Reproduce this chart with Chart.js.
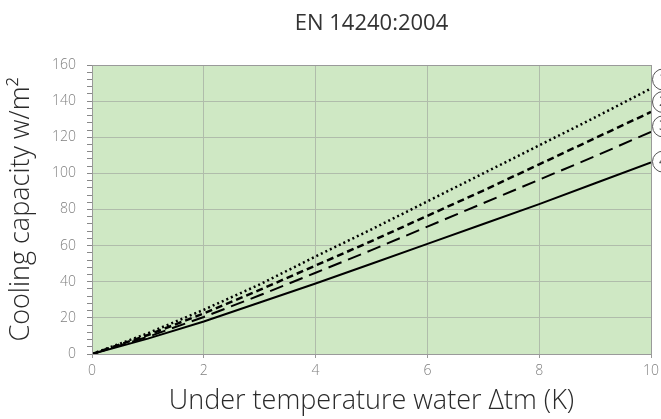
<!DOCTYPE html>
<html lang="en">
<head>
    <meta charset="UTF-8">
    <title>EN 14240:2004</title>
    <script src="https://cdn.jsdelivr.net/npm/chart.js@4.4.0/dist/chart.umd.min.js"></script>
    <style>
        html, body { margin: 0; padding: 0; background: #fff; }
        #wrap { width: 661px; height: 419px; }
    </style>
</head>
<body>
    <div id="wrap"><canvas id="graphCooling"></canvas></div>

    <script>
        // data
        const deltaT = [0, 1, 2, 3, 4, 5, 6, 7, 8, 9, 10];
        const curve1 = [0, 11.5, 24.5, 38.5, 54, 69, 84.5, 100, 115.5, 131, 147];   // dotted
        const curve2 = [0, 10.5, 22.5, 35.5, 49, 62.5, 76.5, 90.5, 105, 119.5, 134]; // short dash
        const curve3 = [0, 9.5, 20.5, 32.5, 45, 57.5, 70.5, 83.5, 96.5, 109.5, 123];  // long dash
        const curve4 = [0, 8.5, 18, 28.5, 39, 50, 61, 72, 83, 94.5, 106];            // solid
        const markerLabels = ['1', '2', '3', '4'];
        const markerValues = [152, 139.5, 126, 106.5];

        function pts(ys) {
            return deltaT.map((x, i) => ({ x: x, y: ys[i] }));
        }

        // green plot background + frame
        const plotBg = {
            id: 'plotBg',
            beforeDraw(chart) {
                const { ctx, chartArea: a } = chart;
                ctx.save();
                ctx.fillStyle = '#cfe8c4';
                ctx.fillRect(a.left, a.top, a.right - a.left, a.bottom - a.top);
                ctx.restore();
            },
            afterDatasetsDraw(chart) {
                const { ctx, chartArea: a } = chart;
                ctx.save();
                ctx.strokeStyle = '#9a9a9a';
                ctx.lineWidth = 1;
                ctx.strokeRect(a.left + 0.5, a.top + 0.5, a.right - a.left, a.bottom - a.top);
                ctx.restore();
            }
        };

        // numbered circles at right edge (cut off like the original)
        const markers = {
            id: 'markers',
            afterDraw(chart) {
                const { ctx, chartArea: a } = chart;
                const ys = chart.scales.y;
                ctx.save();
                markerValues.forEach((v, i) => {
                    const cy = ys.getPixelForValue(v);
                    const cx = a.right + 12;
                    ctx.beginPath();
                    ctx.arc(cx, cy, 10.5, 0, Math.PI * 2);
                    ctx.fillStyle = '#fff';
                    ctx.fill();
                    ctx.strokeStyle = '#555';
                    ctx.lineWidth = 1;
                    ctx.stroke();
                    ctx.fillStyle = '#555';
                    ctx.font = '14px "Open Sans"';
                    ctx.textAlign = 'center';
                    ctx.textBaseline = 'middle';
                    ctx.fillText(markerLabels[i], cx, cy);
                });
                ctx.restore();
            }
        };

        function line(data, dash, width) {
            return {
                data: pts(data),
                borderColor: '#000',
                borderWidth: width,
                borderDash: dash,
                pointRadius: 0,
                fill: false,
                tension: 0
            };
        }

        const font = '"Open Sans", "Noto Sans", sans-serif';

        new Chart(document.getElementById('graphCooling'), {
            type: 'line',
            data: {
                datasets: [
                    line(curve1, [2, 3], 2.5),
                    line(curve2, [7, 4], 2.5),
                    line(curve3, [14, 7], 2),
                    line(curve4, [], 2)
                ]
            },
            plugins: [plotBg, markers],
            options: {
                responsive: true,
                maintainAspectRatio: false,
                animation: false,
                layout: { padding: { left: 0, right: 10, top: 0, bottom: 1 } },
                plugins: {
                    legend: { display: false },
                    tooltip: { enabled: false },
                    title: {
                        display: true,
                        fullSize: false,
                        text: 'EN 14240:2004',
                        color: '#333',
                        font: { family: font, size: 22, weight: 'normal' },
                        padding: { top: 11, bottom: 27.6 }
                    }
                },
                scales: {
                    x: {
                        type: 'linear',
                        min: 0,
                        max: 10,
                        ticks: { stepSize: 2, color: '#808080', font: { family: font, size: 14, weight: 300 }, padding: 5 },
                        grid: { color: '#b0bcab', tickColor: '#999', tickLength: 4 },
                        border: { color: '#999' },
                        title: {
                            display: true,
                            text: 'Under temperature water Δtm (K)',
                            color: '#2a2a2a',
                            font: { family: font, size: 27, weight: 300 },
                            padding: { top: 2, bottom: 0 }
                        },
                        afterFit(s) { s.height = 64; s.paddingRight = 0; }
                    },
                    y: {
                        min: 0,
                        max: 160,
                        ticks: {
                            stepSize: 4,
                            autoSkip: false,
                            color: '#808080',
                            font: { family: font, size: 14, weight: 300 },
                            padding: 11,
                            callback: v => (v % 20 === 0 ? v : '')
                        },
                        grid: {
                            color: c => (c.tick && c.tick.value % 20 === 0 ? '#b0bcab' : 'rgba(0,0,0,0)'),
                            tickColor: '#888',
                            tickLength: 5
                        },
                        border: { color: '#999' },
                        title: {
                            display: true,
                            text: 'Cooling capacity w/m²',
                            color: '#2a2a2a',
                            font: { family: font, size: 27, weight: 300 },
                            padding: { top: 5, bottom: 0 }
                        },
                        afterFit(s) { s.width = 92; }
                    }
                }
            }
        });
    </script>
</body>
</html>
